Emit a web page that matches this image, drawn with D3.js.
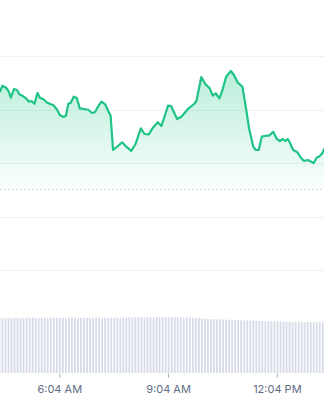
<!DOCTYPE html>
<html>
<head>
<meta charset="utf-8">
<script src="https://cdn.jsdelivr.net/npm/d3@7"></script>
<style>
  html, body { margin: 0; padding: 0; background: #fff; }
  svg { display: block; }
</style>
</head>
<body>
<div id="chart"></div>
<script>
const width = 324;
const height = 400;

// price line (time of day, price)
const priceTimes = ["04:20","04:26","04:30","04:36","04:40","04:44","04:49","04:54","04:58","05:03","05:09","05:14","05:18","05:23","05:28","05:32","05:38","05:43","05:49","05:54","06:00","06:05","06:11","06:15","06:19","06:23","06:28","06:33","06:38","06:45","06:52","06:58","07:03","07:09","07:14","07:20","07:25","07:29","07:33","07:38","07:48","07:55","08:03","08:10","08:19","08:25","08:32","08:39","08:47","08:53","08:59","09:04","09:09","09:19","09:26","09:31","09:38","09:47","09:51","09:59","10:06","10:13","10:18","10:23","10:29","10:34","10:40","10:48","10:53","10:59","11:07","11:13","11:18","11:25","11:29","11:34","11:39","11:46","11:51","11:58","12:04","12:09","12:14","12:18","12:22","12:26","12:31","12:38","12:44","12:49","12:55","13:00","13:05","13:10","13:14","13:19","13:22","13:26"];
const priceValues = [132.9,133.36,134.45,134.07,133.46,132.21,133.83,133.64,132.84,132.58,132.09,131.46,131.59,131.08,133.08,132.21,131.91,131.35,131.03,130.84,130.04,128.97,128.6,128.84,131.08,131.27,132.39,132.15,130.22,130.09,129.96,129.35,129.48,130.71,131.46,130.97,129.72,128.84,122.43,122.86,123.87,123.05,122.24,123.5,126.49,125.42,125.36,126.6,127.61,126.92,128.97,130.71,130.65,128.22,128.65,129.29,130.22,131.03,131.59,136.07,134.71,133.96,132.58,133.03,132.09,133.64,136.13,137.2,136.45,135.08,134.26,130.22,126.49,123.05,122.43,122.43,124.92,125.1,125.1,125.85,124.49,124.11,124.49,124.11,124.49,123.68,122.43,122.0,120.93,120.37,120.56,120.28,120.0,121.03,121.21,121.78,122.52,123.2];

// 5 minute volume bars, first bar at 04:25
const volumeStart = "04:25";
const volumeValues = [
  55.2,54.8,55.0,55.3,54.9,55.1,55.4,54.7,55.0,55.2,54.9,55.3,55.0,54.8,55.1,55.2,54.9,55.0,55.3,55.1,
  55.0,55.2,54.8,55.1,55.3,55.0,54.9,55.2,55.4,55.0,55.1,54.8,55.2,55.3,55.0,55.1,55.4,55.2,55.0,55.3,55.5,55.2,55.4,55.6,
  55.5,55.7,55.4,55.8,55.6,55.9,55.7,55.5,56.0,55.8,55.6,55.9,55.7,56.0,55.8,55.6,55.7,55.5,55.6,55.3,
  55.1,54.9,54.7,54.4,54.2,54.0,53.9,53.7,53.8,53.5,53.6,53.4,53.3,53.2,
  53.0,52.8,52.9,52.6,52.5,52.3,52.4,52.1,52.0,51.9,51.8,51.9,51.7,
  51.6,51.5,51.6,51.4,51.3,51.4,51.2,51.1,51.2,51.0,50.9,51.0,50.8,50.9,50.7,50.8,50.6,50.5
];

const gridValues = [100, 110, 120, 130, 140];
const previousClose = 115.14;
const tickTimes = ["06:04", "09:04", "12:04"];

const parseTime = s => {
  const [h, m] = s.split(":").map(Number);
  return new Date(2024, 0, 15, h, m);
};

const priceData = priceTimes.map((t, i) => ({ date: parseTime(t), value: priceValues[i] }));
const v0 = parseTime(volumeStart);
const volumeData = volumeValues.map((v, i) => ({ date: globalThis.d3.timeMinute.offset(v0, i * 5), value: v }));

const x = globalThis.d3.scaleTime()
  .domain([new Date(2024, 0, 15, 4, 26), new Date(2024, 0, 15, 13, 22)])
  .range([0, width]);

const y = globalThis.d3.scaleLinear()
  .domain([100, 140])
  .range([270, 56]);

const yVol = globalThis.d3.scaleLinear()
  .domain([0, 60])
  .range([373, 313]);

const svg = globalThis.d3.select("#chart")
  .append("svg")
  .attr("width", width)
  .attr("height", height);

const defs = svg.append("defs");
const grad = defs.append("linearGradient")
  .attr("id", "areaFill")
  .attr("gradientUnits", "userSpaceOnUse")
  .attr("x1", 0).attr("x2", 0)
  .attr("y1", y(137.5)).attr("y2", y(previousClose));
grad.append("stop").attr("offset", 0).attr("stop-color", "#16c784").attr("stop-opacity", 0.3);
grad.append("stop").attr("offset", 1).attr("stop-color", "#16c784").attr("stop-opacity", 0.02);

// grid
svg.append("g")
  .selectAll("line")
  .data(gridValues)
  .join("line")
  .attr("x1", 0)
  .attr("x2", width)
  .attr("y1", d => Math.round(y(d)) + 0.5)
  .attr("y2", d => Math.round(y(d)) + 0.5)
  .attr("stroke", "#eff2f5")
  .attr("stroke-width", 1);

// area down to previous close
const area = globalThis.d3.area()
  .x(d => x(d.date))
  .y0(y(previousClose))
  .y1(d => y(d.value));

svg.append("path")
  .datum(priceData)
  .attr("d", area)
  .attr("fill", "url(#areaFill)");

// previous close dotted line
svg.append("line")
  .attr("x1", 0)
  .attr("x2", width)
  .attr("y1", Math.round(y(previousClose)) + 0.5)
  .attr("y2", Math.round(y(previousClose)) + 0.5)
  .attr("stroke", "#c8ced9")
  .attr("stroke-width", 1)
  .attr("stroke-dasharray", "1.5,2.5");

// price line
const line = globalThis.d3.line()
  .x(d => x(d.date))
  .y(d => y(d.value));

svg.append("path")
  .datum(priceData)
  .attr("d", line)
  .attr("fill", "none")
  .attr("stroke", "#1ec486")
  .attr("stroke-width", 2.2)
  .attr("stroke-linejoin", "round")
  .attr("stroke-linecap", "round");

// volume bars
svg.append("g")
  .selectAll("rect")
  .data(volumeData)
  .join("rect")
  .attr("x", d => x(d.date) - 0.9)
  .attr("y", d => yVol(d.value))
  .attr("width", 1.8)
  .attr("height", d => yVol(0) - yVol(d.value))
  .attr("fill", "#d6dbe7");

// time axis
const axis = svg.append("g")
  .attr("transform", "translate(0,373.5)")
  .call(globalThis.d3.axisBottom(x)
    .tickValues(tickTimes.map(parseTime))
    .tickFormat(globalThis.d3.timeFormat("%-I:%M %p"))
    .tickSize(4)
    .tickPadding(8));

axis.select(".domain").remove();
axis.selectAll(".tick line").attr("stroke", "#a6b0c3");
axis.selectAll(".tick text")
  .attr("fill", "#616e85")
  .style("font-family", "Inter, 'Noto Sans', sans-serif")
  .style("font-size", "11px");
</script>
</body>
</html>
